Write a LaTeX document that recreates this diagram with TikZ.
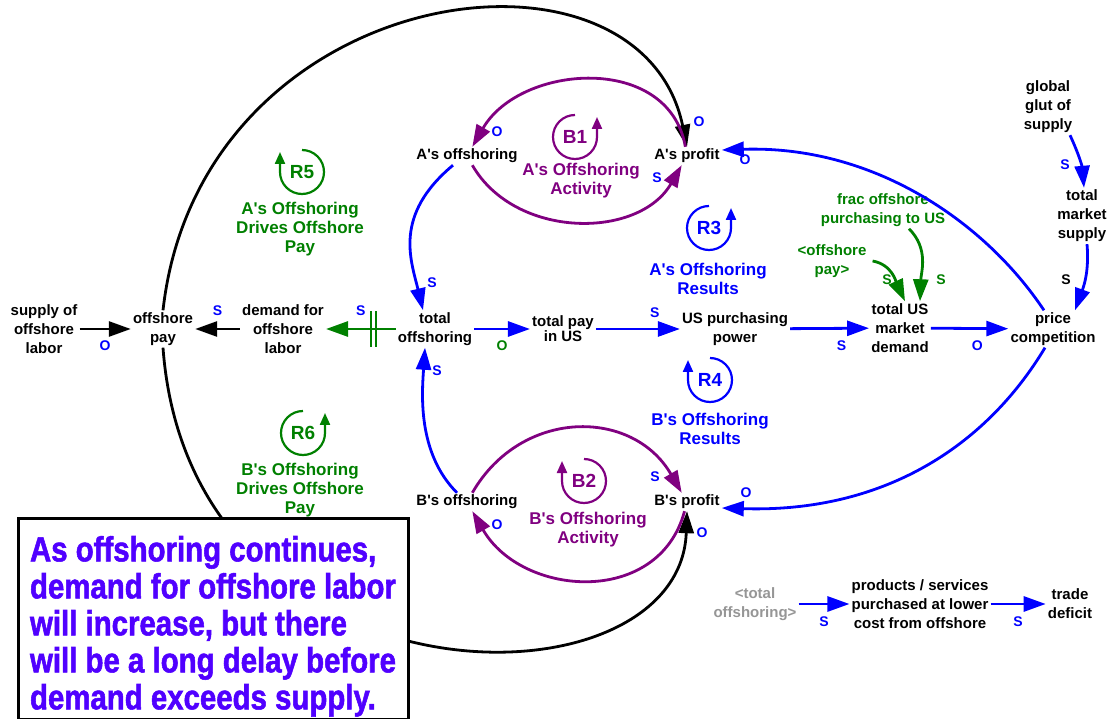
\documentclass[tikz,border=0pt]{standalone}
\usepackage{fontspec}
\setmainfont{Liberation Sans}
\newfontfamily\narrowfont[FakeStretch=0.84, BoldFeatures={FakeBold=1.5}]{Liberation Sans}
\usepackage{tikz}
\usetikzlibrary{arrows.meta,positioning,calc}
\definecolor{vblue}{RGB}{0,0,255}
\definecolor{vgreen}{RGB}{0,128,0}
\definecolor{vpurple}{RGB}{128,0,128}
\definecolor{vgray}{RGB}{150,150,150}
\definecolor{notecol}{RGB}{80,0,255}
\newcommand{\apo}{\textquotesingle}
\newcommand{\loopccw}[2]{\draw[loopline,#2] ([yshift=22pt]#1.center) arc[start angle=90,end angle=360,radius=22pt] -- ++(0,20);}
\newcommand{\loopcw}[2]{\draw[loopline,#2] ([yshift=22pt]#1.center) arc[start angle=90,end angle=-180,radius=22pt] -- ++(0,20);}

\begin{document}
\begin{tikzpicture}[x=1pt, y=1pt,
  var/.style={font=\fontsize{15}{19}\selectfont\bfseries, align=center, inner sep=2pt},
  ghost/.style={var, text=vgray},
  looplbl/.style={font=\fontsize{17}{19}\selectfont\bfseries, align=center, inner sep=1pt},
  loopid/.style={font=\fontsize{19}{19}\selectfont\bfseries, inner sep=0pt},
  pol/.style={font=\fontsize{14}{14}\selectfont\bfseries, text=vblue, inner sep=0pt},
  link/.style={line width=2.8pt, -{Triangle[length=22pt,width=15pt]}},
  loopline/.style={line width=2.2pt, -{Triangle[length=12pt,width=10pt]}},
  delay/.style={line width=2.4pt, vgreen},
  notebox/.style={draw, line width=3pt, fill=white, minimum width=390pt, minimum height=194pt,
    align=left, text=notecol, font=\narrowfont\fontsize{35}{37}\selectfont\bfseries},
]
  \fill[white] (0,0) rectangle (1112,-719);
  \useasboundingbox (0,0) rectangle (1112,-719);

  % variables
  \node[var] (sup) at (44,-329) {supply of\\offshore\\labor};
  \node[var] (pay) at (163,-329) {offshore\\pay};
  \node[var] (dem) at (283,-329) {demand for\\offshore\\labor};
  \node[var] (tot) at (435,-329) {total\\offshoring};
  \node[var] (tpay) at (563,-329) {total pay\\[-4pt]in US};
  \node[var] (usp) at (735,-329) {US purchasing\\power};
  \node[var] (tusd) at (900,-328) {total US\\market\\demand};
  \node[var] (price) at (1053,-329) {price\\competition};
  \node[var] (glut) at (1048,-107) {global\\glut of\\supply};
  \node[var] (tms) at (1082,-216) {total\\market\\supply};
  \node[var, text=vgreen] (frac) at (883,-210) {frac offshore\\purchasing to US};
  \node[var, text=vgreen] (opay) at (832,-261) {<offshore\\pay>};
  \node[var] (aoff) at (467,-156) {A\apo s offshoring};
  \node[var] (aprof) at (687,-156) {A\apo s profit};
  \node[var] (boff) at (467,-502) {B\apo s offshoring};
  \node[var] (bprof) at (687,-502) {B\apo s profit};
  \node[ghost] (ptot) at (755,-604) {<total\\offshoring>};
  \node[var] (prod) at (920,-604) {products / services\\purchased at lower\\cost from offshore};
  \node[var] (trade) at (1070,-604) {trade\\deficit};

  % loops
  \node[loopid, text=vpurple] (b1) at (575,-137) {B1};
  \loopccw{b1}{vpurple}
  \node[looplbl, text=vpurple] (b1name) at (581,-180.5) {A\apo s Offshoring\\Activity};
  \node[loopid, text=vpurple] (b2) at (584,-481) {B2};
  \loopcw{b2}{vpurple}
  \node[looplbl, text=vpurple] (b2name) at (588,-530) {B\apo s Offshoring\\Activity};
  \node[loopid, text=vblue] (r3) at (709,-228) {R3};
  \loopccw{r3}{vblue}
  \node[looplbl, text=vblue] (r3name) at (708,-278.5) {A\apo s Offshoring\\Results};
  \node[loopid, text=vblue] (r4) at (710,-380) {R4};
  \loopcw{r4}{vblue}
  \node[looplbl, text=vblue] (r4name) at (710,-429) {B\apo s Offshoring\\Results};
  \node[loopid, text=vgreen] (r5) at (302,-172) {R5};
  \loopcw{r5}{vgreen}
  \node[looplbl, text=vgreen] (r5name) at (300,-229) {A\apo s Offshoring\\Drives Offshore\\Pay};
  \node[loopid, text=vgreen] (r6) at (303,-433) {R6};
  \loopccw{r6}{vgreen}
  \node[looplbl, text=vgreen] (r6name) at (300,-490) {B\apo s Offshoring\\Drives Offshore\\Pay};

  % main chain
  \draw[link] (sup) -- node[pol, below=10pt] (o1) {O} (pay);
  \draw[link] (dem) -- node[pol, above=12pt] (s1) {S} (pay);
  \draw[link, vgreen] (tot) -- coordinate[pos=0.32] (dly) node[pol, above=12pt] (s2) {S} (dem);
  \draw[delay] ([xshift=-2.5pt,yshift=-18pt]dly) -- ++(0,36);
  \draw[delay] ([xshift=2.5pt,yshift=-18pt]dly) -- ++(0,36);
  \draw[link, vblue] (tot) -- node[pol, text=vgreen, below=10pt] (o2) {O} (tpay);
  \draw[link, vblue] (tpay) -- node[pol, above=10pt, pos=0.7] (s3) {S} (usp);
  \draw[link, vblue] (usp) -- node[pol, below=11pt, pos=0.65] (s4) {S} (tusd);
  \draw[link, vblue] (tusd) -- node[pol, below=11pt, pos=0.6] (o3) {O} (price);

  % supply side
  \draw[link, vblue] ([xshift=22pt]glut.south) to[out=-65, in=95] ([xshift=2pt]tms.north);
  \node[pol] (s5) at (1065,-165) {S};
  \draw[link, vblue] ([xshift=5pt]tms.south) to[out=-85, in=70] ([xshift=22pt]price.north);
  \node[pol, text=black] (s6) at (1066,-280) {S};
  \draw[link, vgreen] ([xshift=26pt]frac.south) to[out=-45, in=88] ([xshift=20pt]tusd.north);
  \node[pol, text=vgreen] (s7) at (941,-280) {S};
  \draw[link, vgreen] ([xshift=4pt]opay.east) to[out=-10, in=115] ([xshift=5pt]tusd.north);
  \node[pol, text=vgreen] (s8) at (887,-280) {S};

  % competition back to profits
  \draw[link, vblue] ([xshift=-9pt]price.north) .. controls +(-60,90) and +(150,5) .. ([yshift=6pt]aprof.east);
  \node[pol] (o4) at (745,-160) {O};
  \draw[link, vblue] ([xshift=-8pt]price.south) .. controls +(-60,-100) and +(160,-5) .. ([yshift=-6pt]bprof.east);
  \node[pol] (o5) at (746,-493) {O};

  % offshore pay to profits
  \draw[link] (pay.north) .. controls (200,20) and (640,80) .. (aprof.north);
  \node[pol] (o6) at (699,-122) {O};
  \draw[link] (pay.south) .. controls (190,-715) and (680,-715) .. (bprof.south);
  \node[pol] (o7) at (702,-533) {O};

  % balancing loops
  \draw[link, vpurple] (aprof) to[out=100, in=60, looseness=1.15] (aoff);
  \node[pol] (o8) at (497,-132) {O};
  \draw[link, vpurple] (aoff) to[out=-60, in=-120, looseness=1.05] (aprof);
  \node[pol] (s9) at (657,-178) {S};
  \draw[link, vpurple] (boff) to[out=60, in=120, looseness=1.2] (bprof);
  \node[pol] (s10) at (655,-477) {S};
  \draw[link, vpurple] (bprof) to[out=-105, in=-60, looseness=1.2] (boff);
  \node[pol] (o9) at (497,-525) {O};

  % offshoring totals
  \draw[link, vblue] ([xshift=-14pt]aoff.south) .. controls +(-60,-50) and +(-12,50) .. ([xshift=-12pt]tot.north);
  \node[pol] (s11) at (432,-283) {S};
  \draw[link, vblue] ([xshift=-10pt]boff.north) .. controls +(-40,40) and +(-3,-45) .. ([xshift=-10pt]tot.south);
  \node[pol] (s12) at (437,-371) {S};

  % trade
  \draw[link, vblue] (ptot) -- node[pol, below=11pt] (s13) {S} (prod);
  \draw[link, vblue] (prod) -- node[pol, below=11pt] (s14) {S} (trade);

  % note
  \node[notebox] (note) at (213,-619) {\rule{0pt}{40pt}As offshoring continues,\\demand for offshore labor\\will increase, but there\\will be a long delay before\\demand exceeds supply.};
\end{tikzpicture}
\end{document}
